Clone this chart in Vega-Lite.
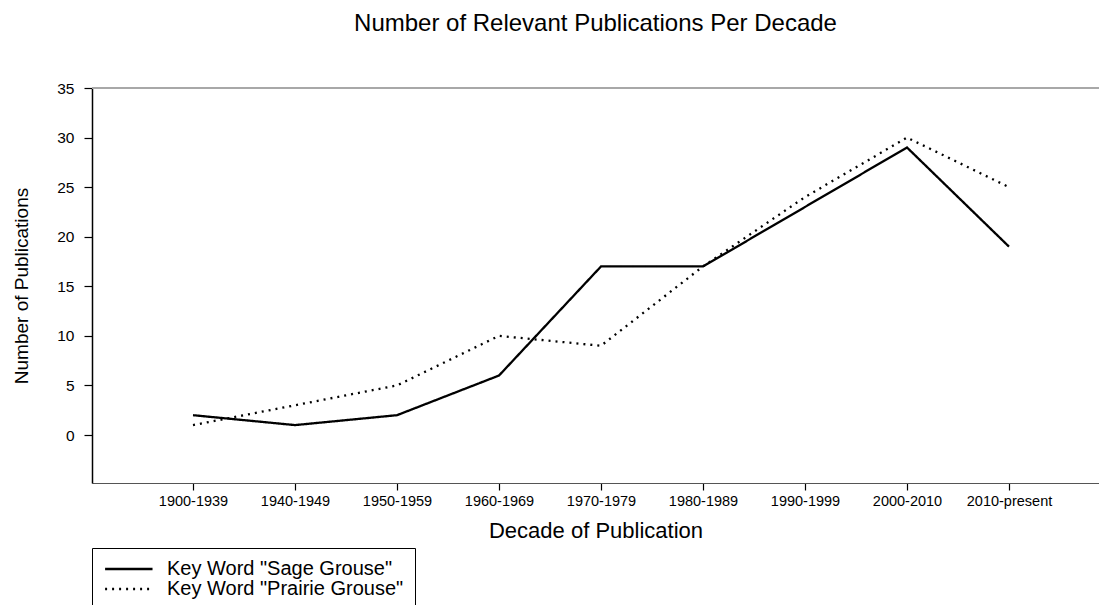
{
  "$schema": "https://vega.github.io/schema/vega-lite/v6.json",
  "autosize": {"type": "none"},
  "padding": {"left": 92, "top": 88, "right": 0, "bottom": 122},
  "width": 1007,
  "height": 395,
  "background": "white",
  "title": {
    "text": "Number of Relevant Publications Per Decade",
    "font": "Liberation Sans",
    "fontSize": 24,
    "fontWeight": "normal",
    "color": "#000000",
    "anchor": "middle",
    "offset": 45
  },
  "config": {
    "view": {"stroke": null},
    "font": "Liberation Sans"
  },
  "data": {
    "values": [
      {"decade": "1900-1939", "series": "Key Word \"Sage Grouse\"", "count": 2},
      {"decade": "1940-1949", "series": "Key Word \"Sage Grouse\"", "count": 1},
      {"decade": "1950-1959", "series": "Key Word \"Sage Grouse\"", "count": 2},
      {"decade": "1960-1969", "series": "Key Word \"Sage Grouse\"", "count": 6},
      {"decade": "1970-1979", "series": "Key Word \"Sage Grouse\"", "count": 17},
      {"decade": "1980-1989", "series": "Key Word \"Sage Grouse\"", "count": 17},
      {"decade": "1990-1999", "series": "Key Word \"Sage Grouse\"", "count": 23},
      {"decade": "2000-2010", "series": "Key Word \"Sage Grouse\"", "count": 29},
      {"decade": "2010-present", "series": "Key Word \"Sage Grouse\"", "count": 19},
      {"decade": "1900-1939", "series": "Key Word \"Prairie Grouse\"", "count": 1},
      {"decade": "1940-1949", "series": "Key Word \"Prairie Grouse\"", "count": 3},
      {"decade": "1950-1959", "series": "Key Word \"Prairie Grouse\"", "count": 5},
      {"decade": "1960-1969", "series": "Key Word \"Prairie Grouse\"", "count": 10},
      {"decade": "1970-1979", "series": "Key Word \"Prairie Grouse\"", "count": 9},
      {"decade": "1980-1989", "series": "Key Word \"Prairie Grouse\"", "count": 17},
      {"decade": "1990-1999", "series": "Key Word \"Prairie Grouse\"", "count": 24},
      {"decade": "2000-2010", "series": "Key Word \"Prairie Grouse\"", "count": 30},
      {"decade": "2010-present", "series": "Key Word \"Prairie Grouse\"", "count": 25}
    ]
  },
  "layer": [
    {
      "mark": {"type": "rule", "color": "#a8a8a8", "strokeWidth": 1.5},
      "encoding": {"y": {"datum": 35, "type": "quantitative"}}
    },
    {
      "mark": {"type": "line", "color": "#000000", "strokeWidth": 2.3},
      "encoding": {
        "x": {
          "field": "decade",
          "type": "ordinal",
          "sort": null,
          "scale": {"type": "point", "padding": 0.9363, "align": 0.5288},
          "axis": {
            "title": "Decade of Publication",
            "titleFont": "Liberation Sans",
            "titleFontSize": 22,
            "titleFontWeight": "normal",
            "titleColor": "#000000",
            "titlePadding": 13,
            "labelAngle": 0,
            "labelFont": "Liberation Sans",
            "labelFontSize": 14.5,
            "labelColor": "#000000",
            "labelPadding": 4,
            "tickColor": "#000000",
            "tickSize": 7,
            "tickWidth": 1.2,
            "domainColor": "#555555",
            "domainWidth": 1.2,
            "grid": false
          }
        },
        "y": {
          "field": "count",
          "type": "quantitative",
          "scale": {"domain": [-4.84, 35], "nice": false, "zero": false},
          "axis": {
            "title": "Number of Publications",
            "titleFont": "Liberation Sans",
            "titleFontSize": 19,
            "titleFontWeight": "normal",
            "titleColor": "#000000",
            "titlePadding": 25,
            "values": [0, 5, 10, 15, 20, 25, 30, 35],
            "labelFont": "Liberation Sans",
            "labelFontSize": 15.5,
            "labelColor": "#000000",
            "labelPadding": 10,
            "tickColor": "#000000",
            "tickSize": 8,
            "tickWidth": 1.2,
            "domainColor": "#000000",
            "domainWidth": 1.5,
            "grid": false
          }
        },
        "strokeDash": {
          "field": "series",
          "type": "nominal",
          "scale": {
            "domain": ["Key Word \"Sage Grouse\"", "Key Word \"Prairie Grouse\""],
            "range": [[1, 0], [2, 5]]
          },
          "legend": {
            "title": null,
            "orient": "none",
            "legendX": 0,
            "legendY": 460,
            "strokeColor": "#000000",
            "fillColor": "#ffffff",
            "padding": 11,
            "symbolType": "M-1,0H5",
            "symbolSize": 250,
            "symbolStrokeWidth": 2.3,
            "symbolStrokeColor": "#000000",
            "labelFont": "Liberation Sans",
            "labelFontSize": 20,
            "labelColor": "#000000",
            "labelOffset": 44,
            "labelLimit": 400,
            "rowPadding": 0
          }
        }
      }
    }
  ]
}
